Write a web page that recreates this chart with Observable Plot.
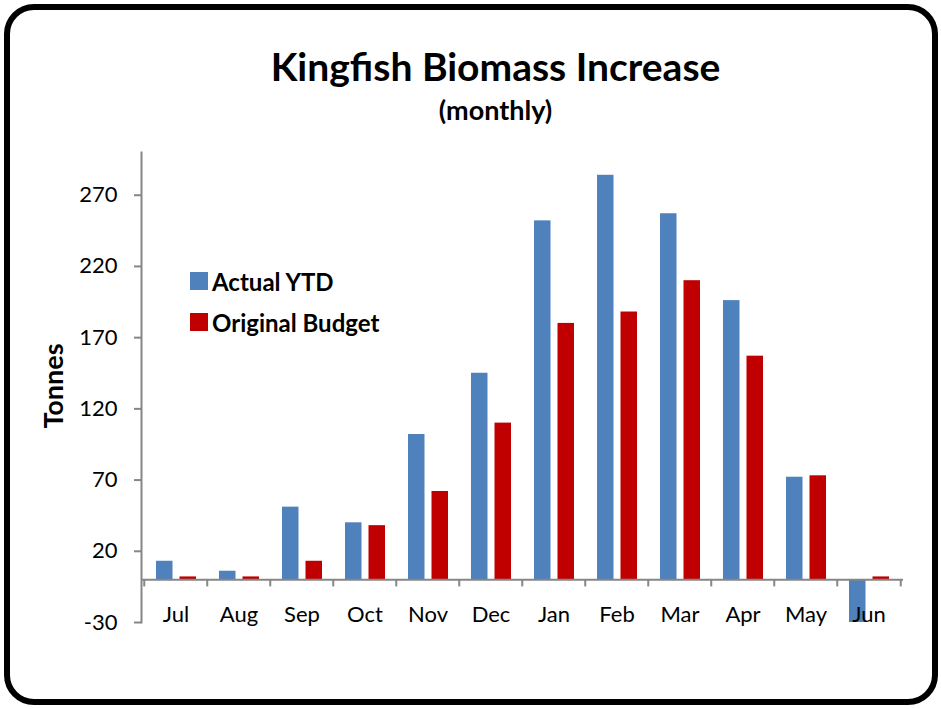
<!DOCTYPE html>
<html>
<head>
<meta charset="utf-8">
<script src="https://cdn.jsdelivr.net/npm/d3@7"></script>
<script src="https://cdn.jsdelivr.net/npm/@observablehq/plot@0.6"></script>
<style>
  html, body { margin: 0; padding: 0; background: #fff; }
  #wrap { position: relative; width: 941px; height: 709px; font-family: Lato, "Open Sans", sans-serif; color: #000; overflow: hidden; }
  .border { position: absolute; left: 4px; top: 4px; width: 922px; height: 689px; border: 6px solid #000; border-radius: 30px; }
  .title { position: absolute; left: 25px; width: 941px; top: 42px; text-align: center; font-weight: 700; font-size: 39px; line-height: 48px; }
  .sub { position: absolute; left: 25px; width: 941px; top: 93px; text-align: center; font-weight: 700; font-size: 27px; line-height: 34px; }
  #chart { position: absolute; left: 0; top: 0; }
  .legend { position: absolute; left: 190px; top: 266px; font-weight: 700; font-size: 24px; }
  .legend .item { display: flex; align-items: center; height: 30px; margin-bottom: 11px; }
  .legend .sw { width: 18px; height: 18px; margin-right: 4px; }
  .ylabel { position: absolute; left: 52px; top: 386px; transform: translate(-50%, -50%) rotate(-90deg); font-weight: 700; font-size: 27px; white-space: nowrap; }
</style>
</head>
<body>
<div id="wrap">
  <div class="border"></div>
  <div id="chart"></div>
  <div class="title">Kingfish Biomass Increase</div>
  <div class="sub">(monthly)</div>
  <div class="legend" id="legend"></div>
  <div class="ylabel">Tonnes</div>
</div>
<script>
const months = ["Jul", "Aug", "Sep", "Oct", "Nov", "Dec", "Jan", "Feb", "Mar", "Apr", "May", "Jun"];
const actualYTD = [13, 6, 51, 40, 102, 145, 252, 284, 257, 196, 72, -30];
const originalBudget = [2, 2, 13, 38, 62, 110, 180, 188, 210, 157, 73, 2];
const seriesNames = ["Actual YTD", "Original Budget"];
const seriesColors = ["#4F81BD", "#C00000"];
const yTicks = [-30, 20, 70, 120, 170, 220, 270];

const actualRows = months.map((m, i) => ({month: m, value: actualYTD[i]}));
const budgetRows = months.map((m, i) => ({month: m, value: originalBudget[i]}));

const W = 941, H = 709, mL = 141, mR = 38, mT = 152, mB = 87;
const bw = (W - mL - mR) / months.length;
const gray = "#868686";

const chart = Plot.plot({
  width: W,
  height: H,
  marginLeft: mL,
  marginRight: mR,
  marginTop: mT,
  marginBottom: mB,
  style: {fontFamily: "Lato, 'Open Sans', sans-serif", fontSize: "20px", color: "#000", background: "transparent", overflow: "visible"},
  x: {domain: months, padding: 0, label: null},
  y: {domain: [-30, 300], label: null},
  marks: [
    Plot.barY(actualRows, {x: "month", y: "value", fill: seriesColors[0], insetLeft: 12, insetRight: bw - 29}),
    Plot.barY(budgetRows, {x: "month", y: "value", fill: seriesColors[1], insetLeft: 35.5, insetRight: bw - 52.5}),
    Plot.ruleY([0], {stroke: gray, strokeWidth: 2}),
    Plot.ruleX(months, {x: d => d, y1: 0, y2: -5, dx: -bw / 2, stroke: gray, strokeWidth: 2}),
    Plot.ruleX(months.slice(-1), {x: d => d, y1: 0, y2: -5, dx: bw / 2, stroke: gray, strokeWidth: 2}),
    Plot.frame({anchor: "left", stroke: gray, strokeWidth: 2}),
    Plot.axisY({ticks: yTicks, tickFormat: d => String(d), tickSize: 7, tickPadding: 17, stroke: gray, strokeWidth: 2, fill: "#000", fontSize: 22, label: null}),
    Plot.axisX({tickSize: 0, tickPadding: 0, dy: -16, fill: "#000", fontSize: 22, label: null})
  ]
});
document.getElementById("chart").appendChild(chart);

const legend = document.getElementById("legend");
seriesNames.forEach((name, i) => {
  const item = document.createElement("div");
  item.className = "item";
  const sw = document.createElement("span");
  sw.className = "sw";
  sw.style.background = seriesColors[i];
  const label = document.createElement("span");
  label.textContent = name;
  item.appendChild(sw);
  item.appendChild(label);
  legend.appendChild(item);
});
</script>
</body>
</html>
